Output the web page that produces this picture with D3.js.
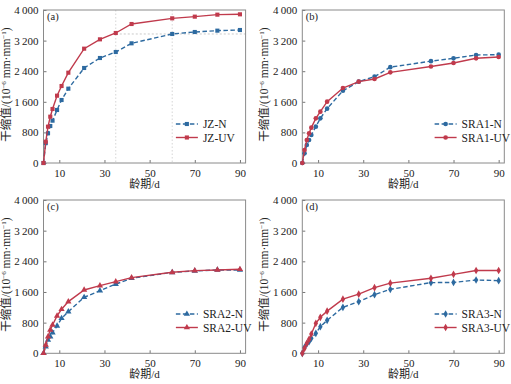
<!DOCTYPE html>
<html><head><meta charset="utf-8">
<script src="https://cdn.jsdelivr.net/npm/d3@7/dist/d3.min.js"></script>
<style>
body{margin:0;background:#fff;}
text{font-family:"Liberation Serif","Noto Sans CJK SC",serif;fill:#222;}
</style></head>
<body><svg id="c" width="511" height="384"></svg>
<script>
const ages = [3,4,5,6,7,9,11,14,21,28,35,42,60,70,80,90];
const JZ_N   = [0,520,776,967,1107,1386,1647,1943,2484,2745,2902,3129,3373,3425,3460,3477];
const JZ_UV  = [0,557,950,1211,1412,1760,2013,2361,2989,3233,3399,3634,3782,3826,3878,3887];
const SRA1_N  = [0,253,471,601,732,950,1168,1420,1891,2126,2257,2505,2663,2737,2824,2832];
const SRA1_UV = [0,340,601,776,924,1168,1342,1603,1960,2126,2196,2371,2524,2614,2737,2771];
const SRA2_N  = [0,174,348,435,539,713,913,1087,1461,1635,1805,1957,2113,2148,2174,2174];
const SRA2_UV = [0,217,435,609,739,974,1148,1348,1652,1765,1870,1974,2113,2157,2174,2192];
const SRA3_N  = [0,157,243,304,391,522,696,860,1200,1348,1530,1670,1844,1850,1913,1896];
const SRA3_UV = [0,130,261,365,504,783,939,1100,1413,1543,1713,1830,1957,2060,2160,2160];
const xTicks = [10,30,50,70,90];
const yTicks = [0,800,1600,2400,3200,4000];
const refLineY = 3373, refLineX = [35,60];

const blue = "#2d6aa0", red = "#c03a4c";
const svg = d3.select("#c");

const panels = [
  {tag:"(a)", n:JZ_N, uv:JZ_UV, names:["JZ-N","JZ-UV"], sym:d3.symbolSquare, L:43.5, R:245.6, T:10, B:163, ref:true},
  {tag:"(b)", n:SRA1_N, uv:SRA1_UV, names:["SRA1-N","SRA1-UV"], sym:d3.symbolCircle, L:302.3, R:504.3, T:10, B:163},
  {tag:"(c)", n:SRA2_N, uv:SRA2_UV, names:["SRA2-N","SRA2-UV"], sym:d3.symbolTriangle, L:43.5, R:245.6, T:200, B:353.3},
  {tag:"(d)", n:SRA3_N, uv:SRA3_UV, names:["SRA3-N","SRA3-UV"], sym:d3.symbolDiamond, L:302.3, R:504.3, T:200, B:353.3}
];

const fmt = d => d >= 1000 ? d3.format(",")(d).replace(",", "\u2009") : String(d);

panels.forEach(p => {
  const x = d3.scaleLinear().domain([3,92.5]).range([p.L,p.R]);
  const y = d3.scaleLinear().domain([0,4000]).range([p.B,p.T]);
  const g = svg.append("g");

  if (p.ref) {
    g.append("line").attr("x1",x(refLineX[0])).attr("x2",p.R).attr("y1",y(refLineY)).attr("y2",y(refLineY))
      .attr("stroke","#bbb").attr("stroke-width",0.8).attr("stroke-dasharray","2,2");
    refLineX.forEach(v => g.append("line").attr("x1",x(v)).attr("x2",x(v)).attr("y1",p.T).attr("y2",p.B)
      .attr("stroke","#ccc").attr("stroke-width",0.8).attr("stroke-dasharray","1.5,2"));
  }

  const ax = g.append("g").attr("transform",`translate(0,${p.B})`)
    .call(d3.axisBottom(x).tickValues(xTicks).tickSize(-3).tickPadding(6));
  const ay = g.append("g").attr("transform",`translate(${p.L},0)`)
    .call(d3.axisLeft(y).tickValues(yTicks).tickSize(-3).tickPadding(5).tickFormat(fmt));
  [ax,ay].forEach(a => {
    a.select(".domain").remove();
    a.selectAll("line").attr("stroke","#777");
    a.selectAll("text").attr("font-size",11).attr("font-family","Liberation Serif").attr("fill","#222");
  });
  g.append("rect").attr("x",p.L).attr("y",p.T).attr("width",p.R-p.L).attr("height",p.B-p.T)
    .attr("fill","none").attr("stroke","#8a8a8a").attr("stroke-width",1);

  const line = d3.line().x((d,i)=>x(ages[i])).y(d=>y(d));
  const series = [{v:p.n,c:blue,dash:"4.5,2.5",name:p.names[0]},{v:p.uv,c:red,dash:null,name:p.names[1]}];
  series.forEach(s => {
    g.append("path").attr("d",line(s.v)).attr("fill","none").attr("stroke",s.c).attr("stroke-width",1.4)
      .attr("stroke-dasharray",s.dash);
    g.selectAll(null).data(s.v).enter().append("path")
      .attr("d",d3.symbol().type(p.sym).size(17))
      .attr("transform",(d,i)=>`translate(${x(ages[i])},${y(d)})`)
      .attr("fill",s.c);
  });

  const lx0 = p.L + (p.R-p.L)*0.655, lx1 = lx0 + 22;
  series.forEach((s,i) => {
    const ly = p.T + 114 + i*13.5;
    g.append("line").attr("x1",lx0).attr("x2",lx1).attr("y1",ly).attr("y2",ly)
      .attr("stroke",s.c).attr("stroke-width",1.4).attr("stroke-dasharray",s.dash);
    g.append("path").attr("d",d3.symbol().type(p.sym).size(17)).attr("transform",`translate(${(lx0+lx1)/2},${ly})`).attr("fill",s.c);
    g.append("text").attr("x",lx1+5).attr("y",ly+4).attr("font-size",11.5).text(s.name);
  });

  g.append("text").attr("x",p.L+3.5).attr("y",p.T+10).attr("font-size",10.5).text(p.tag);
  g.append("text").attr("x",(p.L+p.R)/2).attr("y",p.B+25).attr("text-anchor","middle").attr("font-size",11).text("龄期/d");

  const yt = g.append("text").attr("transform",`translate(${p.L-34},${(p.T+p.B)/2 - 2}) rotate(-90)`)
    .attr("text-anchor","middle").attr("font-size",11.5);
  yt.append("tspan").text("干缩值/(10");
  yt.append("tspan").attr("dy",-4).attr("font-size",7).text("−6");
  yt.append("tspan").attr("dy",4).text(" mm·mm");
  yt.append("tspan").attr("dy",-4).attr("font-size",7).text("−1");
  yt.append("tspan").attr("dy",4).text(")");
});
</script></body></html>
